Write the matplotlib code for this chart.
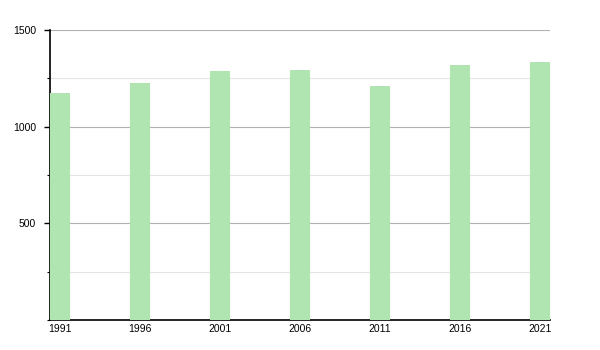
import matplotlib
matplotlib.use('Agg')
import matplotlib.pyplot as plt
from matplotlib.ticker import MultipleLocator

plt.rcParams['font.family'] = ['Liberation Sans', 'DejaVu Sans']

# data
years = ['1991', '1996', '2001', '2006', '2011', '2016', '2021']
population = [1176, 1224, 1288, 1293, 1210, 1319, 1334]

fig = plt.figure(figsize=(6, 3.5), dpi=100)
ax = fig.add_axes([50/600, 30/350, 500/600, 290/350])

x = range(len(years))
ax.bar(x, population, width=0.26, color='#b0e4b0', zorder=3)

ax.set_xlim(-0.125, len(years) - 0.875)
ax.set_ylim(0, 1500)
ax.set_xticks(list(x))
ax.set_xticklabels(years)
ax.yaxis.set_major_locator(MultipleLocator(500))
ax.yaxis.set_minor_locator(MultipleLocator(250))
ax.set_yticks([500, 1000, 1500])

ax.grid(axis='y', which='major', color='#b0b0b0', linewidth=0.8, zorder=0)
ax.grid(axis='y', which='minor', color='#e4e4e4', linewidth=0.8, zorder=0)

for s in ['top', 'right']:
    ax.spines[s].set_visible(False)
ax.spines['left'].set_linewidth(1.2)
ax.spines['bottom'].set_linewidth(1.2)

ax.tick_params(axis='x', length=0, pad=3, labelsize=7.5)
ax.tick_params(axis='y', which='major', length=4, width=1, pad=6, labelsize=7.5)
ax.tick_params(axis='y', which='minor', length=2, width=0.8)

fig.savefig('out.png', dpi=100)
